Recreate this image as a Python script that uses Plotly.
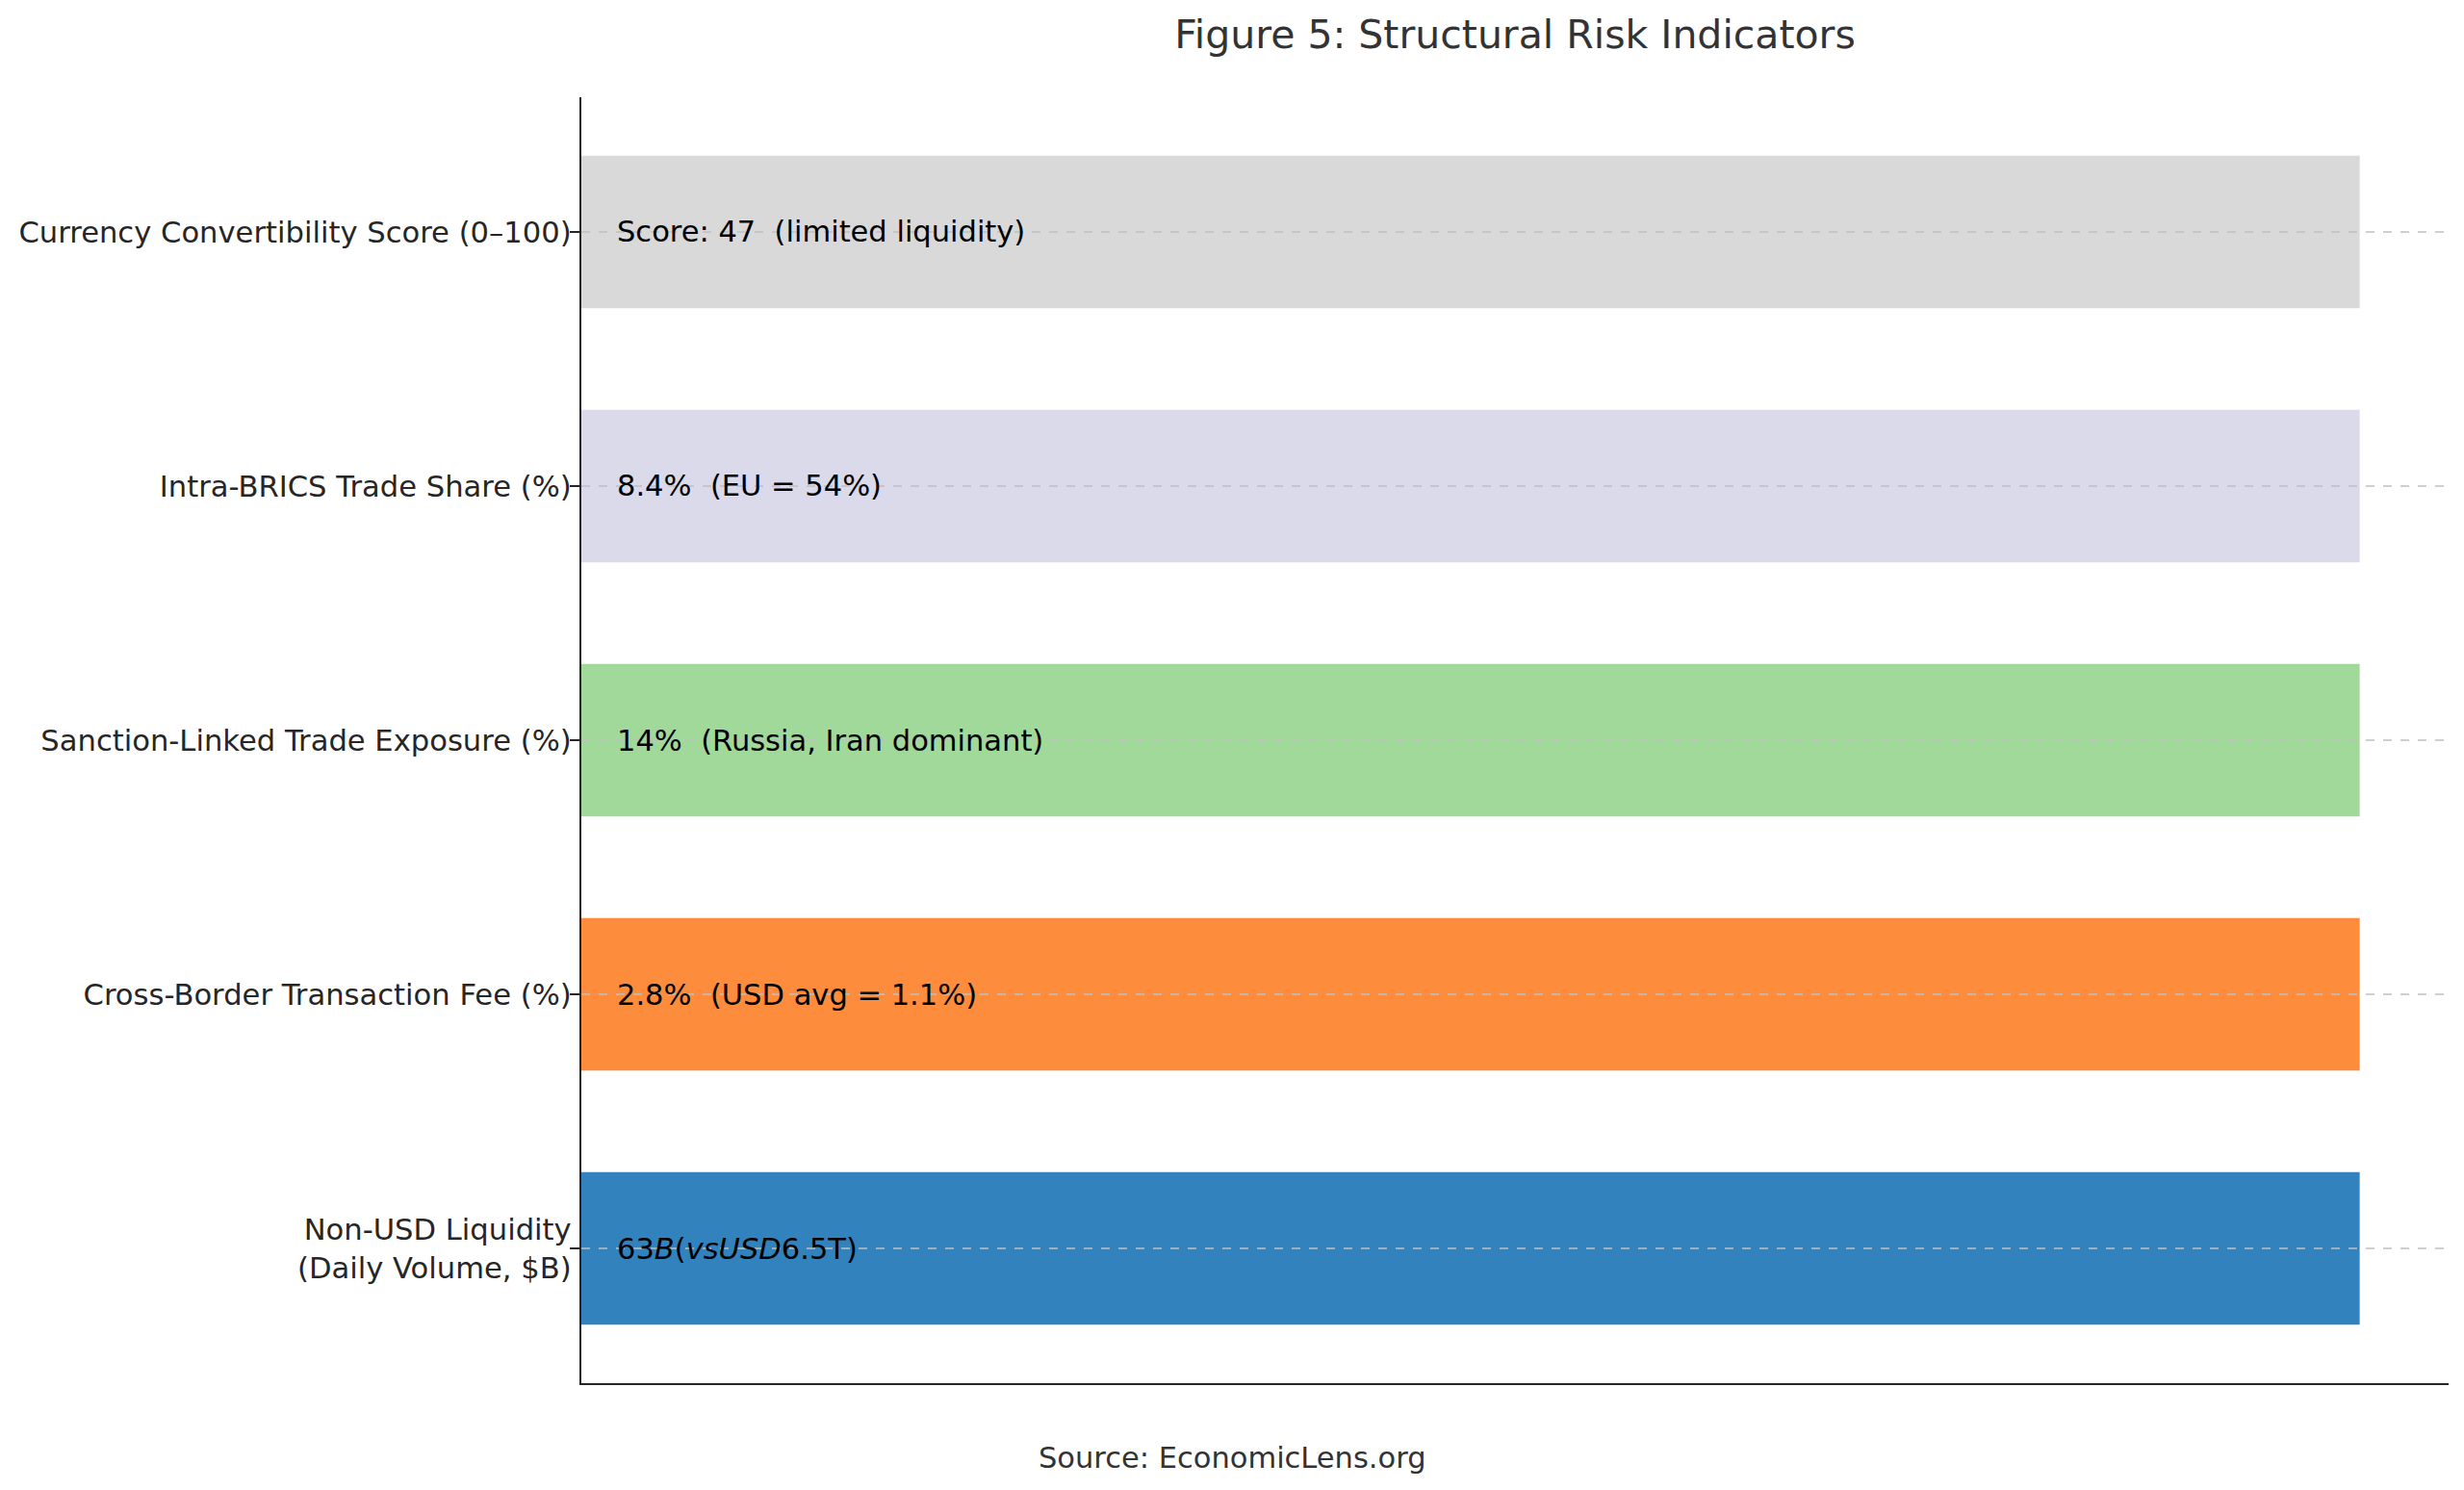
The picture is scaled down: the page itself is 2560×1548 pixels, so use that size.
import plotly.graph_objects as go

categories = [
    'Non-USD Liquidity<br>(Daily Volume, $B)',
    'Cross-Border Transaction Fee (%)',
    'Sanction-Linked Trade Exposure (%)',
    'Intra-BRICS Trade Share (%)',
    'Currency Convertibility Score (0–100)',
]
bar_values = [1, 1, 1, 1, 1]
bar_labels = [
    '63<i>B</i>(<i>vsUSD</i>6.5T)',
    '2.8%  (USD avg = 1.1%)',
    '14%  (Russia, Iran dominant)',
    '8.4%  (EU = 54%)',
    'Score: 47  (limited liquidity)',
]
bar_colors = ['#3182bd', '#fd8d3c', '#a1d99b', '#dadaeb', '#d9d9d9']

W, H = 2560, 1548
off = 8  # page body margin
left, right, top, bottom = 604 - off, 16 + off, 101 - off, 111 + off
font = 'DejaVu Sans'

fig = go.Figure()
fig.add_trace(go.Bar(
    x=bar_values,
    y=list(range(len(categories))),
    orientation='h',
    width=0.6,
    marker=dict(color=bar_colors, line=dict(width=0)),
    hoverinfo='skip',
))

# text inside each bar
for i, lab in enumerate(bar_labels):
    fig.add_annotation(x=0.019, y=i, text=lab, showarrow=False,
                       xanchor='left', yanchor='middle',
                       font=dict(family=font, size=30.5, color='black'))

# dashed gridlines drawn over the bars
for i in range(len(categories)):
    fig.add_shape(type='line', xref='paper', x0=0, x1=1, y0=i, y1=i,
                  line=dict(color='#c0c0c0', width=1.5, dash='dash'), layer='above')

plot_w = W - left - right
plot_h = H - top - bottom
fig.add_annotation(xref='paper', yref='paper',
                   x=(W / 2 - off - left) / plot_w,
                   y=-((1514 - off) - (H - bottom)) / plot_h,
                   text='Source: EconomicLens.org', showarrow=False,
                   xanchor='center', yanchor='middle',
                   font=dict(family=font, size=30.5, color='#333333'))

fig.update_layout(
    width=W, height=H,
    margin=dict(l=left, r=right, t=top, b=bottom, pad=0, autoexpand=False),
    plot_bgcolor='white', paper_bgcolor='white',
    showlegend=False,
    font=dict(family=font, color='#333333'),
    title=dict(text='Figure 5: Structural Risk Indicators',
               x=(left + plot_w / 2) / W, xanchor='center',
               y=1 - (36 - off) / H, yanchor='middle',
               font=dict(family=font, size=41, color='#333333')),
)
fig.update_xaxes(range=[0, 1.05], showgrid=False, zeroline=False,
                 showticklabels=False, ticks='', automargin=False,
                 showline=True, linecolor='#262626', linewidth=2.4)
fig.update_yaxes(range=[-0.53, 4.53], showgrid=False, zeroline=False, automargin=False,
                 tickmode='array', tickvals=list(range(len(categories))), ticktext=categories,
                 ticks='outside', ticklen=10, tickwidth=2.2, tickcolor='#262626',
                 ticklabelstandoff=-8,
                 tickfont=dict(family=font, size=30.6, color='#262626'),
                 showline=True, linecolor='#262626', linewidth=2.4)

fig.write_html('out.html')
